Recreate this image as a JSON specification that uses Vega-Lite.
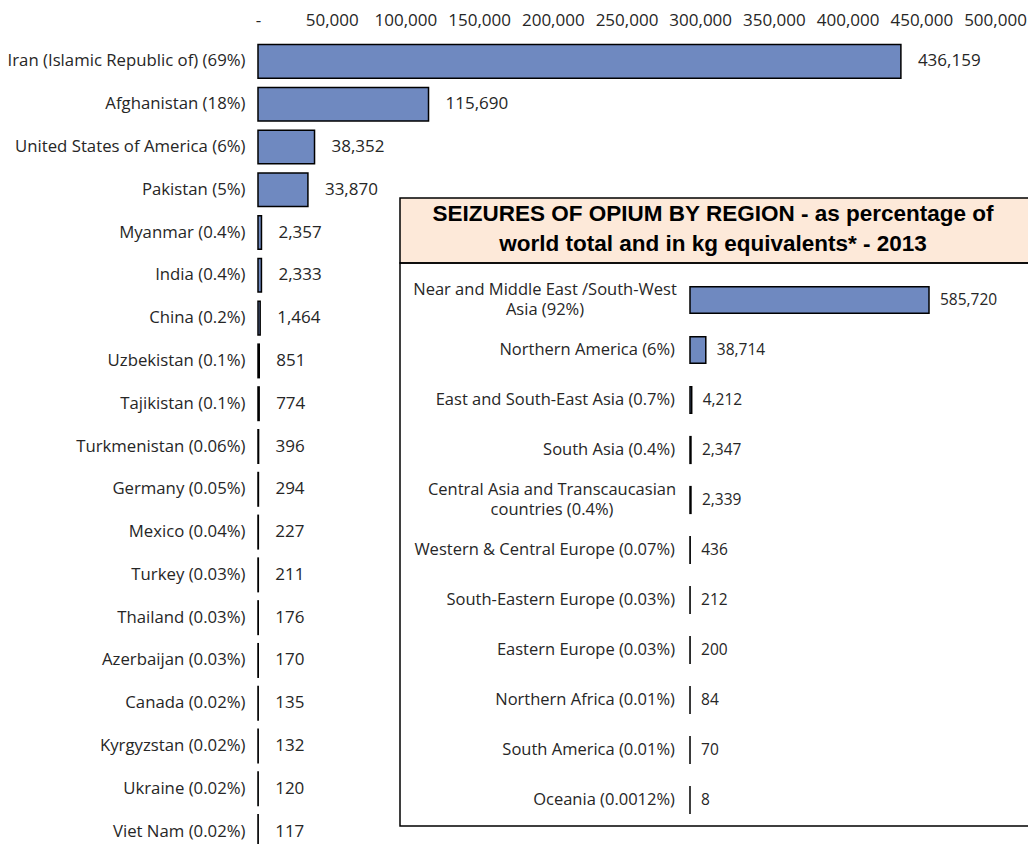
{
  "$schema": "https://vega.github.io/schema/vega-lite/v6.json",
  "padding": {"top": 11, "left": 7, "right": 0, "bottom": 0},
  "background": "white",
  "bounds": "flush",
  "spacing": 0,
  "datasets": {
    "countries": [
      {"country": "Iran (Islamic Republic of) (69%)", "kg": 436159},
      {"country": "Afghanistan (18%)", "kg": 115690},
      {"country": "United States of America (6%)", "kg": 38352},
      {"country": "Pakistan (5%)", "kg": 33870},
      {"country": "Myanmar (0.4%)", "kg": 2357},
      {"country": "India (0.4%)", "kg": 2333},
      {"country": "China (0.2%)", "kg": 1464},
      {"country": "Uzbekistan (0.1%)", "kg": 851},
      {"country": "Tajikistan (0.1%)", "kg": 774},
      {"country": "Turkmenistan (0.06%)", "kg": 396},
      {"country": "Germany (0.05%)", "kg": 294},
      {"country": "Mexico (0.04%)", "kg": 227},
      {"country": "Turkey (0.03%)", "kg": 211},
      {"country": "Thailand (0.03%)", "kg": 176},
      {"country": "Azerbaijan (0.03%)", "kg": 170},
      {"country": "Canada (0.02%)", "kg": 135},
      {"country": "Kyrgyzstan (0.02%)", "kg": 132},
      {"country": "Ukraine (0.02%)", "kg": 120},
      {"country": "Viet Nam (0.02%)", "kg": 117}
    ],
    "regions": [
      {"region": "Near and Middle East /South-West\nAsia (92%)", "kg": 585720},
      {"region": "Northern America (6%)", "kg": 38714},
      {"region": "East and South-East Asia (0.7%)", "kg": 4212},
      {"region": "South Asia (0.4%)", "kg": 2347},
      {"region": "Central Asia and Transcaucasian\ncountries (0.4%)", "kg": 2339},
      {"region": "Western & Central Europe (0.07%)", "kg": 436},
      {"region": "South-Eastern Europe (0.03%)", "kg": 212},
      {"region": "Eastern Europe (0.03%)", "kg": 200},
      {"region": "Northern Africa (0.01%)", "kg": 84},
      {"region": "South America (0.01%)", "kg": 70},
      {"region": "Oceania (0.0012%)", "kg": 8}
    ],
    "title": [
      {"text": "SEIZURES OF OPIUM BY REGION - as percentage of\nworld total and in kg equivalents* - 2013"}
    ]
  },
  "hconcat": [
    {
      "width": 142,
      "height": 813,
      "data": {"name": "countries"},
      "encoding": {
        "y": {
          "field": "country",
          "type": "nominal",
          "sort": null,
          "scale": {"paddingInner": 0.217, "paddingOuter": 0.108},
          "axis": {"title": null, "ticks": false, "domain": false, "labelPadding": 13, "labelLimit": 400, "labelFontSize": 16.75}
        }
      },
      "layer": [
        {
          "mark": {"type": "bar", "color": "#6F89C0", "stroke": "black", "strokeWidth": 1.5},
          "encoding": {
            "x": {
              "field": "kg",
              "type": "quantitative",
              "scale": {"domain": [0, 500000], "nice": false, "range": [0, 737]},
              "axis": {
                "orient": "top",
                "title": null,
                "values": [0, 50000, 100000, 150000, 200000, 250000, 300000, 350000, 400000, 450000, 500000],
                "tickCount": 30,
                "labelExpr": "datum.value == 0 ? '-' : format(datum.value, ',')",
                "grid": false,
                "domain": false,
                "ticks": false,
                "labelPadding": 11,
                "labelFlush": false,
                "labelOverlap": false
              }
            }
          }
        },
        {
          "mark": {"type": "text", "align": "left", "dx": 17, "fontSize": 17},
          "encoding": {
            "x": {"field": "kg", "type": "quantitative"},
            "text": {"field": "kg", "type": "quantitative", "format": ","}
          }
        }
      ]
    },
    {
      "bounds": "flush",
      "spacing": 0,
      "vconcat": [
        {
          "width": 10,
          "height": 158,
          "data": {"values": []},
          "mark": {"type": "point"},
          "encoding": {}
        },
        {
          "width": 640,
          "height": 65,
          "view": {"fill": "#FDE9D9", "stroke": "black", "strokeWidth": 1.5},
          "data": {"name": "title"},
          "mark": {
            "type": "text",
            "lineBreak": "\n",
            "font": "Liberation Sans",
            "fontWeight": "bold",
            "fontSize": 22.5,
            "lineHeight": 30,
            "color": "black",
            "dx": -7,
            "dy": -17
          },
          "encoding": {"text": {"field": "text"}}
        },
        {
          "width": 640,
          "height": 563,
          "view": {"stroke": "black", "strokeWidth": 1.5},
          "data": {"name": "regions"},
          "encoding": {
            "y": {
              "field": "region",
              "type": "nominal",
              "sort": null,
              "scale": {"paddingInner": 0.466, "paddingOuter": 0.363, "align": 0.6515},
              "axis": null
            }
          },
          "layer": [
            {
              "mark": {"type": "bar", "color": "#6F89C0", "stroke": "black", "strokeWidth": 1.5},
              "encoding": {
                "x": {
                  "field": "kg",
                  "type": "quantitative",
                  "scale": {"domain": [-710685, 857734], "nice": false, "zero": false},
                  "axis": null
                }
              }
            },
            {
              "mark": {"type": "text", "align": "left", "dx": 11, "fontSize": 15.5},
              "encoding": {
                "x": {"field": "kg", "type": "quantitative"},
                "text": {"field": "kg", "type": "quantitative", "format": ","}
              }
            },
            {
              "transform": [{"filter": "indexof(datum.region, '\\n') < 0"}],
              "mark": {"type": "text", "align": "right", "dx": -15, "fontSize": 16.5},
              "encoding": {
                "x": {"datum": 0, "type": "quantitative"},
                "text": {"field": "region"}
              }
            },
            {
              "transform": [{"filter": "indexof(datum.region, 'Near') == 0"}],
              "mark": {"type": "text", "align": "center", "dx": -145, "dy": -9.5, "fontSize": 16.5, "lineBreak": "\n", "lineHeight": 20},
              "encoding": {
                "x": {"datum": 0, "type": "quantitative"},
                "text": {"field": "region"}
              }
            },
            {
              "transform": [{"filter": "indexof(datum.region, 'Central Asia') == 0"}],
              "mark": {"type": "text", "align": "center", "dx": -138, "dy": -9.5, "fontSize": 16.5, "lineBreak": "\n", "lineHeight": 20},
              "encoding": {
                "x": {"datum": 0, "type": "quantitative"},
                "text": {"field": "region"}
              }
            }
          ]
        }
      ]
    }
  ],
  "config": {
    "view": {"stroke": null},
    "font": "Open Sans",
    "text": {"font": "Open Sans", "color": "#262626"},
    "axis": {"labelFont": "Open Sans", "labelColor": "#262626", "labelFontSize": 17}
  }
}
